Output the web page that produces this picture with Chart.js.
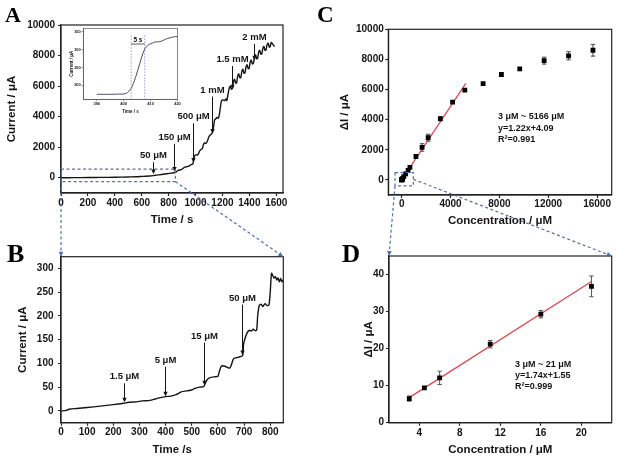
<!DOCTYPE html>
<html>
<head>
<meta charset="utf-8">
<title>Amperometric response</title>
<script src="https://cdn.jsdelivr.net/npm/chart.js@4.4.1/dist/chart.umd.min.js"></script>
<style>
  body { margin: 0; background: #fff; }
  #fig { position: relative; width: 617px; height: 462px; overflow: hidden; background: #fff; }
  #fig canvas { position: absolute; left: 0; top: 0; }
</style>
</head>
<body>
<div id="fig">
  <canvas id="chartA" width="617" height="462"></canvas>
  <canvas id="chartInset" width="617" height="462"></canvas>
  <canvas id="chartB" width="617" height="462"></canvas>
  <canvas id="chartC" width="617" height="462"></canvas>
  <canvas id="chartD" width="617" height="462"></canvas>
  <canvas id="overlay" width="617" height="462"></canvas>
</div>
<script>
// ---- panel A: full i-t trace ----
const aTime = [
  0, 100, 200, 300, 400, 500, 560, 610, 660, 700,
  760, 805, 850, 870, 890, 905, 920, 935, 950, 965,
  980, 985, 992, 1000, 1012, 1022, 1030, 1040, 1050, 1058,
  1066, 1075, 1083, 1092, 1100, 1110, 1120, 1128, 1135, 1142,
  1150, 1160, 1170, 1178, 1186, 1194, 1205, 1215, 1225, 1232,
  1240, 1250, 1258, 1266, 1274, 1282, 1290, 1298, 1305, 1313,
  1321, 1329, 1336, 1344, 1352, 1360, 1367, 1375, 1383, 1391,
  1398, 1406, 1414, 1422, 1430, 1438, 1446, 1454, 1461, 1469,
  1477, 1485, 1492, 1500, 1508, 1516, 1523, 1531, 1540, 1548,
  1555, 1563, 1572, 1580, 1590
];
const aCurrent = [
  0, 5, 12, 20, 32, 50, 62, 90, 110, 160,
  225, 285, 340, 480, 520, 600, 700, 720, 760, 850,
  900, 1150, 1400, 1500, 1480, 1560, 1750, 1850, 1900, 2150,
  2280, 2250, 2320, 2500, 2700, 2800, 2880, 3050, 3400, 3800,
  3850, 3950, 3900, 4200, 4700, 5050, 5100, 5050, 5150, 5050,
  5400, 5850, 6000, 5800, 5850, 6300, 6450, 6200, 6200, 6650,
  6800, 6550, 6550, 6950, 7100, 6850, 6850, 7250, 7400, 7150,
  7150, 7550, 7700, 7450, 7500, 7900, 8050, 7800, 7800, 8200,
  8350, 8100, 8100, 8450, 8600, 8350, 8350, 8700, 8800, 8550,
  8600, 8850, 8780, 8650, 8600
];
const aMarkLabels = ['50 μM', '150 μM', '500 μM', '1 mM', '1.5 mM', '2 mM'];
const aMarkTime = [686, 843, 983, 1122, 1274, 1434];
const aMarkText = [1450, 2650, 4000, 5750, 7750, 9200];
const aMarkTip = [250, 400, 1000, 2900, 5800, 7700];
const aZoomBox = [0, 850, -250, 560];   // t0, t1, i0, i1 of the region enlarged in B

// ---- inset of A: response time ----
const iTime = [
  390, 392, 394, 396, 398, 400, 401, 402, 402.8, 403.6,
  404.4, 405.2, 406, 406.8, 407.6, 408.4, 409.3, 410.5, 411.8, 413,
  414, 415.5, 417, 418.5, 420
];
const iCurrent = [
  175, 175, 175, 175, 175.5, 176, 178, 184, 192, 205,
  222, 242, 262, 282, 298, 308, 314, 318, 322, 322,
  324, 329, 333, 336, 337
];
const iSpan = [402.8, 407.8];
const iSpanLabel = '5 s';

// ---- panel B: low-concentration part ----
const bTime = [
  0, 10, 20, 35, 60, 100, 150, 200, 240, 260,
  290, 310, 340, 360, 380, 400, 420, 440, 460, 480,
  500, 515, 530, 545, 550, 558, 570, 590, 600, 605,
  612, 620, 635, 645, 652, 660, 670, 685, 695, 698,
  705, 712, 720, 728, 735, 742, 748, 752, 758, 765,
  772, 780, 788, 795, 800, 805, 810, 815, 820, 825,
  830, 835, 840, 845, 850
];
const bCurrent = [
  0, 0, 1, 4, 5, 7, 10, 13, 16, 18,
  19, 21, 22, 25, 28, 30, 31, 34, 40, 42,
  44, 48, 50, 51, 56, 65, 70, 72, 73, 82,
  93, 95, 92, 90, 98, 110, 112, 114, 117, 140,
  155, 165, 170, 168, 172, 169, 170, 200, 222, 225,
  220, 226, 222, 223, 250, 290, 285, 280, 283, 276,
  280, 272, 279, 272, 276
];
const bMarkLabels = ['1.5 μM', '5 μM', '15 μM', '50 μM'];
const bMarkTime = [241, 396, 547, 692];
const bMarkText = [72, 107, 158, 238];
const bMarkTip = [18, 31, 54, 118];

// ---- panel C: calibration, full range ----
const cConc = [3, 4.5, 6, 11, 16, 21, 71, 171, 321, 521, 671, 1166, 1666, 2166, 3166, 4166, 5166, 6666, 8166, 9666, 11666, 13666, 15666];
const cDelta = [6.6, 9.4, 12.1, 21.2, 29.3, 36.8, 95, 215, 400, 640, 830, 1556, 2156, 2800, 4060, 5170, 5960, 6390, 7000, 7375, 7920, 8240, 8610];
const cErr = [0.7, 0.3, 1.8, 1, 1, 2.8, 20, 30, 40, 50, 60, 90, 250, 230, 110, 70, 70, 70, 70, 90, 230, 270, 390];
const cFitX = [0, 5250];
const cFitY = [4, 6410];
const cNote = ['3 μM ~ 5166 μM', 'y=1.22x+4.09', 'R²=0.991'];
const cZoomBox = [-550, 950, -400, 490];

// ---- panel D: calibration, low range ----
const dConc = [3, 4.5, 6, 11, 16, 21];
const dDelta = [6.5, 9.4, 12.1, 21.2, 29.3, 36.8];
const dErr = [0.7, 0.3, 1.8, 1.0, 1.0, 2.8];
const dFitX = [3, 21];
const dFitY = [6.77, 38.09];
const dNote = ['3 μM ~ 21 μM', 'y=1.74x+1.55', 'R²=0.999'];

// ---- axes ----
const axA = { x: { min: 0, max: 1650, ticks: [0, 200, 400, 600, 800, 1000, 1200, 1400, 1600], title: 'Time / s' },
              y: { min: -1000, max: 10000, ticks: [0, 2000, 4000, 6000, 8000, 10000], title: 'Current / μA' } };
const axI = { x: { min: 385, max: 420, ticks: [390, 400, 410, 420], title: 'Time / s' },
              y: { min: 161, max: 360, ticks: [200, 250, 300, 350], title: 'Current / μA' } };
const axB = { x: { min: 0, max: 850, ticks: [0, 100, 200, 300, 400, 500, 600, 700, 800], title: 'Time /s' },
              y: { min: -25, max: 325, ticks: [0, 50, 100, 150, 200, 250, 300], title: 'Current / μA' } };
const axC = { x: { min: -1100, max: 17200, ticks: [0, 4000, 8000, 12000, 16000], title: 'Concentration / μM' },
              y: { min: -1000, max: 10000, ticks: [0, 2000, 4000, 6000, 8000, 10000], title: 'ΔI / μA' } };
const axD = { x: { min: 1, max: 23, ticks: [4, 8, 12, 16, 20], title: 'Concentration / μM' },
              y: { min: 0, max: 45, ticks: [0, 10, 20, 30, 40], title: 'ΔI / μA' } };

const SANS = "'Liberation Sans', Arial, Helvetica, sans-serif";
const SERIF = "'Liberation Serif', 'Times New Roman', serif";
const INK = '#151515';
const RED = '#e4414b';
const LINK = '#4b70b4';

function axis(pos, spec, size, st) {
  return {
    type: 'linear', position: pos, min: spec.min, max: spec.max, bounds: 'data',
    afterBuildTicks: s => { s.ticks = spec.ticks.map(v => ({ value: v })); },
    afterFit: s => { if (pos === 'bottom') s.height = size; else s.width = size; },
    grid: { drawOnChartArea: false, drawTicks: true, tickLength: st.tl, tickWidth: st.lw, color: st.ink },
    border: { display: true, color: st.ink, width: st.lw },
    ticks: { color: INK, padding: pos === 'bottom' ? st.xtp : st.ytp, autoSkip: false, maxRotation: 0,
             callback: v => String(v),
             font: { family: SANS, size: st.fs, weight: 'bold' } },
    title: { display: true, text: spec.title, color: INK, padding: 0,
             font: { family: SANS, size: st.tf, weight: 'bold', lineHeight: 1 } }
  };
}

function framePlugin(lw, ink) {
  return {
    id: 'frame',
    afterDraw(chart) {
      const { ctx, chartArea: a } = chart;
      ctx.save();
      ctx.strokeStyle = ink;
      ctx.lineWidth = lw;
      ctx.strokeRect(a.left, a.top, a.right - a.left, a.bottom - a.top);
      ctx.restore();
    }
  };
}

function marksPlugin(labels, at, textAt, tipAt, fs) {
  return {
    id: 'marks',
    afterDatasetsDraw(chart) {
      const { ctx, scales: { x, y } } = chart;
      ctx.save();
      ctx.font = `bold ${fs}px ${SANS}`;
      ctx.textAlign = 'center';
      ctx.textBaseline = 'middle';
      ctx.fillStyle = INK;
      ctx.strokeStyle = INK;
      ctx.lineWidth = 1;
      labels.forEach((lab, i) => {
        const px = Math.round(x.getPixelForValue(at[i])) + 0.5;
        const ty = y.getPixelForValue(textAt[i]);
        const tip = y.getPixelForValue(tipAt[i]);
        ctx.fillText(lab, px, ty);
        ctx.beginPath();
        ctx.moveTo(px, ty + fs * 0.7);
        ctx.lineTo(px, tip - 3);
        ctx.stroke();
        ctx.beginPath();
        ctx.moveTo(px - 2.2, tip - 4.5);
        ctx.lineTo(px + 2.2, tip - 4.5);
        ctx.lineTo(px, tip);
        ctx.closePath();
        ctx.fill();
      });
      ctx.restore();
    }
  };
}

function errPlugin(xs, ys, err, color) {
  return {
    id: 'errbars',
    beforeDatasetsDraw(chart) {
      const { ctx, scales: { x, y } } = chart;
      ctx.save();
      ctx.strokeStyle = color;
      ctx.lineWidth = 1;
      xs.forEach((v, i) => {
        const px = x.getPixelForValue(v);
        const lo = y.getPixelForValue(ys[i] - err[i]);
        const hi = y.getPixelForValue(ys[i] + err[i]);
        if (lo - hi < 3) return;
        ctx.beginPath();
        ctx.moveTo(px, lo); ctx.lineTo(px, hi);
        ctx.moveTo(px - 2.2, lo); ctx.lineTo(px + 2.2, lo);
        ctx.moveTo(px - 2.2, hi); ctx.lineTo(px + 2.2, hi);
        ctx.stroke();
      });
      ctx.restore();
    }
  };
}

function notePlugin(lines, left, top, gap) {
  return {
    id: 'note',
    afterDraw(chart) {
      const ctx = chart.ctx;
      ctx.save();
      ctx.font = `bold 9px ${SANS}`;
      ctx.fillStyle = INK;
      ctx.textAlign = 'left';
      ctx.textBaseline = 'middle';
      lines.forEach((t, i) => ctx.fillText(t, left, top + i * gap));
      ctx.restore();
    }
  };
}

const spanPlugin = {
  id: 'span',
  afterDatasetsDraw(chart) {
    const { ctx, scales: { x, y } } = chart;
    const x0 = x.getPixelForValue(iSpan[0]);
    const x1 = x.getPixelForValue(iSpan[1]);
    const yTop = y.getPixelForValue(340);
    const yBar = y.getPixelForValue(316);
    ctx.save();
    ctx.strokeStyle = '#8088cc';
    ctx.lineWidth = 0.8;
    ctx.setLineDash([1.5, 1.5]);
    [x0, x1].forEach(px => {
      ctx.beginPath();
      ctx.moveTo(px, yTop);
      ctx.lineTo(px, chart.chartArea.bottom);
      ctx.stroke();
    });
    ctx.setLineDash([]);
    ctx.strokeStyle = '#333';
    ctx.beginPath();
    ctx.moveTo(x0, yBar); ctx.lineTo(x1, yBar);
    ctx.stroke();
    ctx.fillStyle = '#111';
    ctx.font = `bold 6.5px ${SANS}`;
    ctx.textAlign = 'center';
    ctx.textBaseline = 'bottom';
    ctx.fillText(iSpanLabel, (x0 + x1) / 2, yBar - 0.5);
    ctx.restore();
  }
};

function panel(id, box, ax, st, datasets, plugins) {
  const padL = box.yTitle - st.tf / 2;
  const xBottom = box.xTitle + st.tf / 2;
  return new Chart(document.getElementById(id), {
    type: 'scatter',
    data: { datasets },
    options: {
      responsive: false,
      animation: false,
      events: [],
      layout: { padding: { left: padL, top: box.top, right: 617 - box.right, bottom: 462 - xBottom } },
      scales: {
        x: axis('bottom', ax.x, xBottom - box.bottom, st),
        y: axis('left', ax.y, box.left - padL, st)
      },
      plugins: { legend: { display: false }, tooltip: { enabled: false } }
    },
    plugins: [framePlugin(st.lw, st.ink)].concat(plugins || [])
  });
}

const pts = (xs, ys) => xs.map((v, i) => ({ x: v, y: ys[i] }));
const mainStyle = { fs: 10, tf: 11.5, tl: 3, xtp: 1, ytp: 3, lw: 1.2, ink: '#222' };

const chartA = panel('chartA',
  { left: 61, top: 25, right: 283, bottom: 193, yTitle: 12, xTitle: 219.5 }, axA, mainStyle,
  [{ data: pts(aTime, aCurrent), showLine: true, borderColor: INK, borderWidth: 1.4, pointRadius: 0, tension: 0.3 }],
  [marksPlugin(aMarkLabels, aMarkTime, aMarkText, aMarkTip, 9.5)]);

const chartI = panel('chartInset',
  { left: 83.3, top: 28.3, right: 177.5, bottom: 99.3, yTitle: 72, xTitle: 111.5 }, axI,
  { fs: 4, tf: 4.5, tl: 1.5, xtp: 0.5, ytp: 1, lw: 0.7, ink: '#555' },
  [{ data: pts(iTime, iCurrent), showLine: true, borderColor: '#4a4a66', borderWidth: 1, pointRadius: 0, tension: 0.4 }],
  [spanPlugin]);

const chartB = panel('chartB',
  { left: 61, top: 256.7, right: 283.3, bottom: 422.7, yTitle: 22.5, xTitle: 449.5 }, axB,
  Object.assign({}, mainStyle, { ytp: 4.5 }),
  [{ data: pts(bTime, bCurrent), showLine: true, borderColor: INK, borderWidth: 1.4, pointRadius: 0, tension: 0.25 }],
  [marksPlugin(bMarkLabels, bMarkTime, bMarkText, bMarkTip, 9.5)]);

const chartC = panel('chartC',
  { left: 388.3, top: 29.3, right: 611.7, bottom: 195, yTitle: 344.7, xTitle: 221.3 }, axC,
  Object.assign({}, mainStyle, { xtp: 0, ytp: 1.5 }),
  [
    { data: pts(cConc, cDelta), pointStyle: 'rect', pointRadius: 3.4, backgroundColor: '#000', borderColor: '#000', borderWidth: 0 },
    { data: pts(cFitX, cFitY), showLine: true, borderColor: RED, borderWidth: 1.2, pointRadius: 0 }
  ],
  [errPlugin(cConc, cDelta, cErr, '#444'), notePlugin(cNote, 498, 117, 11.5)]);

const chartD = panel('chartD',
  { left: 389, top: 256, right: 611.7, bottom: 422.7, yTitle: 368.8, xTitle: 450 }, axD,
  Object.assign({}, mainStyle, { xtp: 2, ytp: 2 }),
  [
    { data: pts(dConc, dDelta), pointStyle: 'rect', pointRadius: 3.4, backgroundColor: '#000', borderColor: '#000', borderWidth: 0 },
    { data: pts(dFitX, dFitY), showLine: true, borderColor: RED, borderWidth: 1.2, pointRadius: 0 }
  ],
  [errPlugin(dConc, dDelta, dErr, '#555'), notePlugin(dNote, 515, 365, 11)]);

// ---- zoom connectors and panel letters ----
function dashedArrow(ctx, x1, y1, x2, y2) {
  ctx.setLineDash([3, 2.5]);
  ctx.beginPath();
  ctx.moveTo(x1, y1);
  ctx.lineTo(x2, y2);
  ctx.stroke();
  ctx.setLineDash([]);
  const ang = Math.atan2(y2 - y1, x2 - x1);
  const L = 5, W = 2.3;
  ctx.beginPath();
  ctx.moveTo(x2, y2);
  ctx.lineTo(x2 - L * Math.cos(ang) + W * Math.sin(ang), y2 - L * Math.sin(ang) - W * Math.cos(ang));
  ctx.lineTo(x2 - L * Math.cos(ang) - W * Math.sin(ang), y2 - L * Math.sin(ang) + W * Math.cos(ang));
  ctx.closePath();
  ctx.fill();
}

function zoomLinks(ctx, src, box, dst, fromMid) {
  const sx = src.scales.x, sy = src.scales.y;
  const x0 = sx.getPixelForValue(box[0]), x1 = sx.getPixelForValue(box[1]);
  const y0 = sy.getPixelForValue(box[2]), y1 = sy.getPixelForValue(box[3]);
  ctx.setLineDash([3, 2.5]);
  ctx.strokeRect(x0, y1, x1 - x0, y0 - y1);
  const a = dst.chartArea;
  dashedArrow(ctx, x0, y0, a.left, a.top);
  dashedArrow(ctx, x1, fromMid ? (y0 + y1) / 2 : y0, a.right, a.top);
}

const ov = document.getElementById('overlay').getContext('2d');
ov.strokeStyle = LINK;
ov.fillStyle = LINK;
ov.lineWidth = 1.2;
zoomLinks(ov, chartA, aZoomBox, chartB, false);
zoomLinks(ov, chartC, cZoomBox, chartD, true);

ov.fillStyle = '#000';
ov.textBaseline = 'alphabetic';
ov.textAlign = 'left';
[['A', 5, 22, 22], ['B', 7, 262, 26], ['C', 317, 22, 23], ['D', 342, 262, 25]].forEach(([t, x, y, s]) => {
  ov.font = `bold ${s}px ${SERIF}`;
  ov.fillText(t, x, y);
});
</script>
</body>
</html>
